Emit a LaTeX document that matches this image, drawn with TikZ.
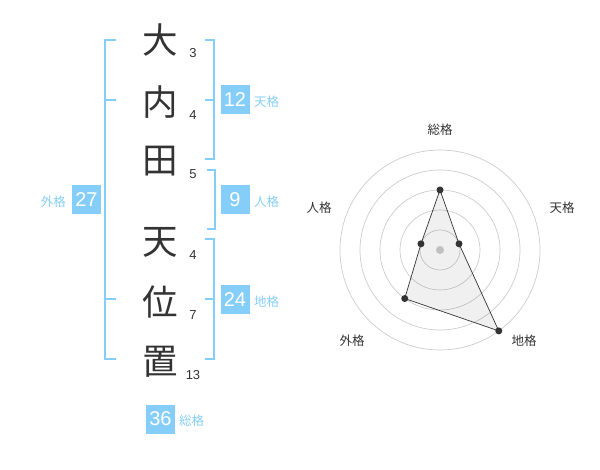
\documentclass[tikz,border=0pt]{standalone}
\usepackage{fontspec}
\setmainfont{Liberation Sans}
\newfontfamily\jp{Noto Sans CJK JP}
\usepackage{tikz}
\usetikzlibrary{calc}

\definecolor{kakublue}{HTML}{85CEF9}
\definecolor{darktext}{HTML}{333333}
\definecolor{ringgray}{HTML}{CCCCCC}

\begin{document}
\begin{tikzpicture}[x=1pt,y=-1pt,
  kanji/.style={text=darktext,font=\jp\fontsize{35.5}{35.5}\selectfont},
  stroke/.style={text=darktext,font=\fontsize{13}{13}\selectfont,anchor=center},
  kakubox/.style={fill=kakublue,text=white,minimum size=29pt,inner sep=0pt,font=\fontsize{20}{20}\selectfont},
  kakuname/.style={text=kakublue,font=\jp\fontsize{12.5}{12.5}\selectfont,inner sep=0pt},
  bracket/.style={kakublue,line width=1.6pt},
  radarname/.style={text=darktext,font=\jp\fontsize{12.5}{12.5}\selectfont},
  dot/.style={circle,fill=darktext,inner sep=0pt,minimum size=7pt}]
\useasboundingbox (0,0) rectangle (600,470);
% name
\foreach \c/\y/\s/\nm in {大/40/3/ch1,内/102/4/ch2,田/161/5/ch3,天/242/4/ch4,位/302/7/ch5,置/362/13/ch6}
{
\node[kanji] (\nm) at (160,\y) {\c};
\node[stroke] (\nm s) at (193,\y+13) {\s};
}
% brackets
\draw[bracket] (116,40) -- (105,40) -- (105,359) -- (116,359);
\draw[bracket] (105,100) -- (116,100);
\draw[bracket] (105,299) -- (116,299);
\draw[bracket] (205,40) -- (214,40) -- (214,159) -- (205,159);
\draw[bracket] (205,100) -- (214,100);
\draw[bracket] (207,170) -- (215,170) -- (215,229) -- (207,229);
\draw[bracket] (205,239) -- (214,239) -- (214,359) -- (205,359);
\draw[bracket] (205,299) -- (214,299);
% boxes
\node[kakubox] (ten) at (235,100) {12};
\node[kakuname,anchor=west] (tenl) at (254,102) {天格};
\node[kakubox] (jin) at (235,200) {9};
\node[kakuname,anchor=west] (jinl) at (254,202) {人格};
\node[kakubox] (chi) at (235,300) {24};
\node[kakuname,anchor=west] (chil) at (254,302) {地格};
\node[kakubox] (gai) at (86.5,200) {27};
\node[kakuname,anchor=east] (gail) at (66,202) {外格};
\node[kakubox] (so) at (160.5,419) {36};
\node[kakuname,anchor=west] (sol) at (179,421) {総格};
% radar
\begin{scope}[shift={(440,250)},y=1pt]
\foreach \r in {20,40,60,80,100}
\draw[ringgray,line width=0.7pt] (0,0) circle (\r pt);
\node[circle,fill=ringgray,inner sep=0pt,minimum size=8pt] (c) at (0,0) {};
\coordinate (p1) at (90:60);
\coordinate (p2) at (18:20);
\coordinate (p3) at (-54:100);
\coordinate (p4) at (-126:60);
\coordinate (p5) at (162:20);
\draw[darktext,line width=0.7pt,fill=black,fill opacity=0.06] (p1) -- (p2) -- (p3) -- (p4) -- (p5) -- cycle;
\foreach \p in {p1,p2,p3,p4,p5}
\node[dot] at (\p) {};
\end{scope}
\node[radarname] (r1) at (440,130) {総格};
\node[radarname] (r2) at (562,208) {天格};
\node[radarname] (r3) at (524,341) {地格};
\node[radarname] (r4) at (352,341) {外格};
\node[radarname] (r5) at (319,208) {人格};
\end{tikzpicture}
\end{document}
